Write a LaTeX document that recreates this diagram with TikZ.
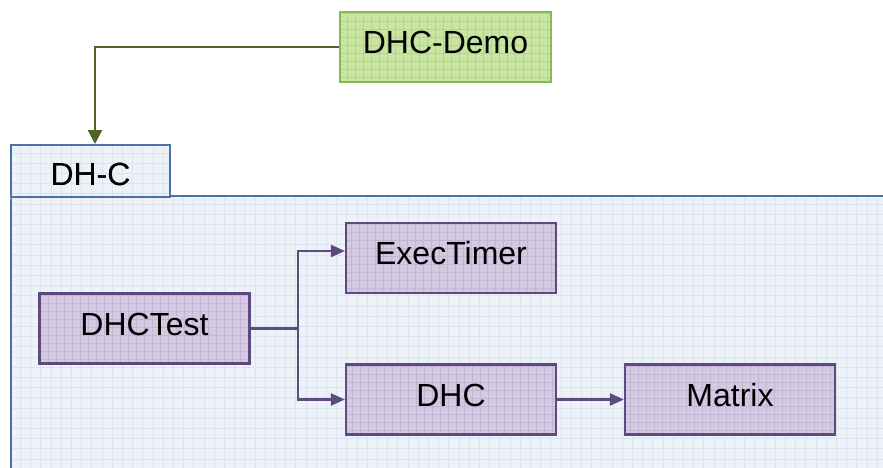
\documentclass[tikz,border=0pt]{standalone}
\usepackage{fontspec}
\setmainfont{Liberation Sans}
\usetikzlibrary{arrows.meta}
\definecolor{greenfill}{HTML}{C8E6A2}
\definecolor{greengrid}{HTML}{B0D885}
\definecolor{greenedge}{HTML}{86B955}
\definecolor{greenarrow}{HTML}{4F6228}
\definecolor{pkgfill}{HTML}{EDF2F9}
\definecolor{pkggrid}{HTML}{DCE4F1}
\definecolor{pkgedge}{HTML}{4A72A8}
\definecolor{clsfill}{HTML}{D3C9E1}
\definecolor{clsgrid}{HTML}{C2B5D5}
\definecolor{clsedge}{HTML}{5F4A80}
\tikzset{
  x=1pt, y=-1pt,
  gridfill/.style 2 args={fill=#1, path picture={
      \draw[#2, line width=0.6pt, step=8pt]
        (path picture bounding box.south west) grid (path picture bounding box.north east);}},
  box/.style={rectangle, inner sep=0pt, font=\fontsize{32}{38}\selectfont,
    text height=23pt, text depth=10pt},
  classbox/.style={box, minimum width=210pt, minimum height=70pt,
    gridfill={clsfill}{clsgrid}, draw=clsedge, line width=2.2pt},
  demobox/.style={box, minimum width=211pt, minimum height=70pt,
    gridfill={greenfill}{greengrid}, draw=greenedge, line width=1.4pt},
  tabbox/.style={box, minimum width=159pt, minimum height=52pt,
    text height=28pt, text depth=0pt,
    fill=pkgfill, draw=pkgedge, line width=2pt},
  dep/.style={draw=clsedge, line width=2.2pt,
    -{Triangle[length=14pt,width=12pt]}},
  uses/.style={draw=greenarrow, line width=2.2pt,
    -{Triangle[length=14pt,width=14pt]}},
}
\begin{document}
\begin{tikzpicture}
\useasboundingbox (0,0) rectangle (883,467);
\clip (0,0) rectangle (883,467);
\fill[white] (0,0) rectangle (883,467);

% package body with its background grid
\node[rectangle, inner sep=0pt, anchor=north west, minimum width=890pt,
      minimum height=290pt, fill=pkgfill] (body) at (11,196) {};
\begin{scope}
  \clip (11,196) rectangle (900,480);
  \draw[pkggrid, line width=0.7pt, step=10.2pt] (0,0) grid (900,480);
\end{scope}
\draw[pkgedge, line width=2pt] (11,480) -- (11,196) -- (900,196);

% package tab
\node[tabbox] (tab) at (90.5,171) {DH-C};
\begin{scope}
  \clip (tab.south west) rectangle (tab.north east);
  \draw[pkggrid, line width=0.7pt, step=10.2pt] (0,0) grid (200,200);
\end{scope}
\node[tabbox, fill=none] at (tab) {DH-C};

% external component
\node[demobox] (demo) at (445.5,47) {DHC-Demo};

% classes
\node[classbox] (exec) at (451,258) {ExecTimer};
\node[classbox] (test) at (144.5,328.5) {DHCTest};
\node[classbox] (dhc) at (451,399.5) {DHC};
\node[classbox] (matrix) at (730,399.5) {Matrix};

% connectors
\coordinate (split) at (298,328.5);
\draw[uses] (demo.west) -| ([xshift=4.5pt]tab.north);
\draw[draw=clsedge, line width=2.2pt] (test.east) -- (split);
\draw[dep] (split) |- ([yshift=7pt]exec.west);
\draw[dep] (split) |- (dhc.west);
\draw[dep] (dhc.east) -- (matrix.west);
\end{tikzpicture}
\end{document}
